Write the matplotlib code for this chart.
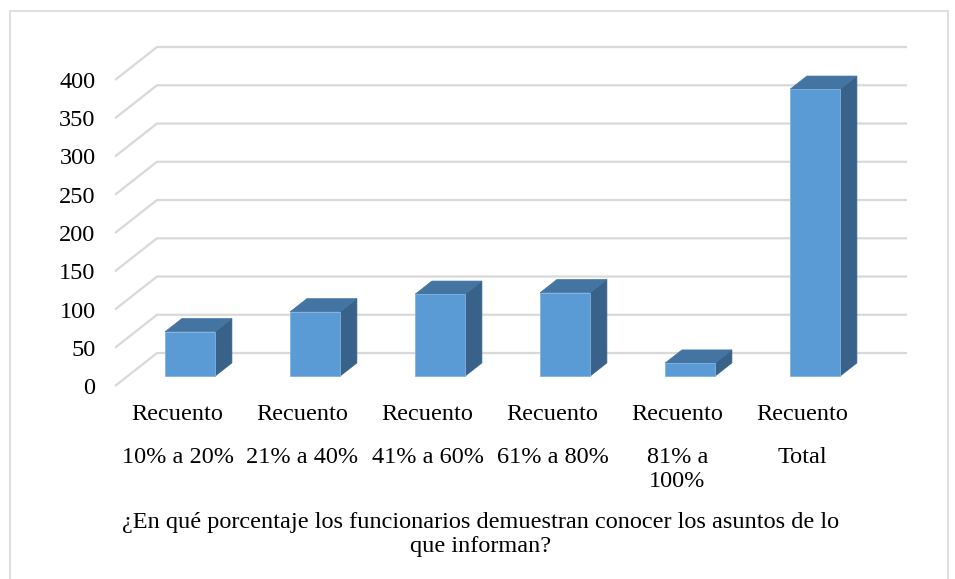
import matplotlib.pyplot as plt
from matplotlib.patches import Polygon, Rectangle

plt.rcParams['font.family'] = ['Liberation Serif', 'DejaVu Serif']

# Counts per answer group
groups = ['10% a 20%', '21% a 40%', '41% a 60%', '61% a 80%', '81% a\n100%', 'Total']
counts = [58, 84, 107, 109, 17, 375]
row_label = 'Recuento'
yticks = list(range(0, 401, 50))
title = ('¿En qué porcentaje los funcionarios demuestran conocer los asuntos de lo\n'
         'que informan?')

# oblique depth offset of the back wall, in data units (slots, counts)
DX, DY = 0.336, 43.1
D0, D1 = 0.3, 0.7          # bar depth span
BAR_W = 0.4
FS = 17.5

front = '#5B9BD5'
top_c = '#4374A2'
side_c = '#386289'
grid_c = '#D9D9D9'

W, H = 955, 579
fig = plt.figure(figsize=(W / 100, H / 100), dpi=100)

# chart frame
fig.add_artist(Rectangle((10 / W, -0.01), 938 / W, (H - 11) / H + 0.01,
                         transform=fig.transFigure, fill=False,
                         edgecolor=grid_c, lw=1.2))

ax = fig.add_axes([115 / W, (H - 386) / H, 750 / W, 306 / H])
ax.set_xlim(0, len(groups))
ax.set_ylim(0, 400)
for s in ax.spines.values():
    s.set_visible(False)

# side-wall diagonals and back-wall gridlines
n = len(groups)
for v in yticks:
    ax.plot([0, DX, n + DX], [v, v + DY, v + DY], color=grid_c, lw=1.6,
            clip_on=False, zorder=1, solid_capstyle='butt')


def shift(x, y, d):
    return (x + DX * d, y + DY * d)


for i, v in enumerate(counts):
    x0 = i + (1 - BAR_W) / 2
    x1 = x0 + BAR_W
    face = [shift(x0, 0, D0), shift(x1, 0, D0), shift(x1, v, D0), shift(x0, v, D0)]
    top = [shift(x0, v, D0), shift(x1, v, D0), shift(x1, v, D1), shift(x0, v, D1)]
    side = [shift(x1, 0, D0), shift(x1, 0, D1), shift(x1, v, D1), shift(x1, v, D0)]
    ax.add_patch(Polygon(side, closed=True, facecolor=side_c, edgecolor=side_c,
                         lw=0.5, zorder=3, clip_on=False))
    ax.add_patch(Polygon(top, closed=True, facecolor=top_c, edgecolor=top_c,
                         lw=0.5, zorder=3, clip_on=False))
    ax.add_patch(Polygon(face, closed=True, facecolor=front, edgecolor='#7FB2E0',
                         lw=0.6, zorder=4, clip_on=False))

ax.set_yticks(yticks)
ax.set_yticklabels([str(t) for t in yticks], fontsize=FS)
ax.tick_params(axis='y', length=0, pad=14)
ax.set_xticks([])

# category labels in two rows
tr = ax.get_xaxis_transform()
for i, g in enumerate(groups):
    ax.text(i + 0.5, -18 / 306, row_label, transform=tr, ha='center', va='top',
            fontsize=FS)
    ax.text(i + 0.5, -61 / 306, g, transform=tr, ha='center', va='top',
            fontsize=FS, linespacing=1.2, multialignment='center')

fig.text(481 / W, 1 - 512 / H, title, ha='center', va='top', fontsize=FS,
         linespacing=1.2)

fig.savefig('out.png', dpi=100)
